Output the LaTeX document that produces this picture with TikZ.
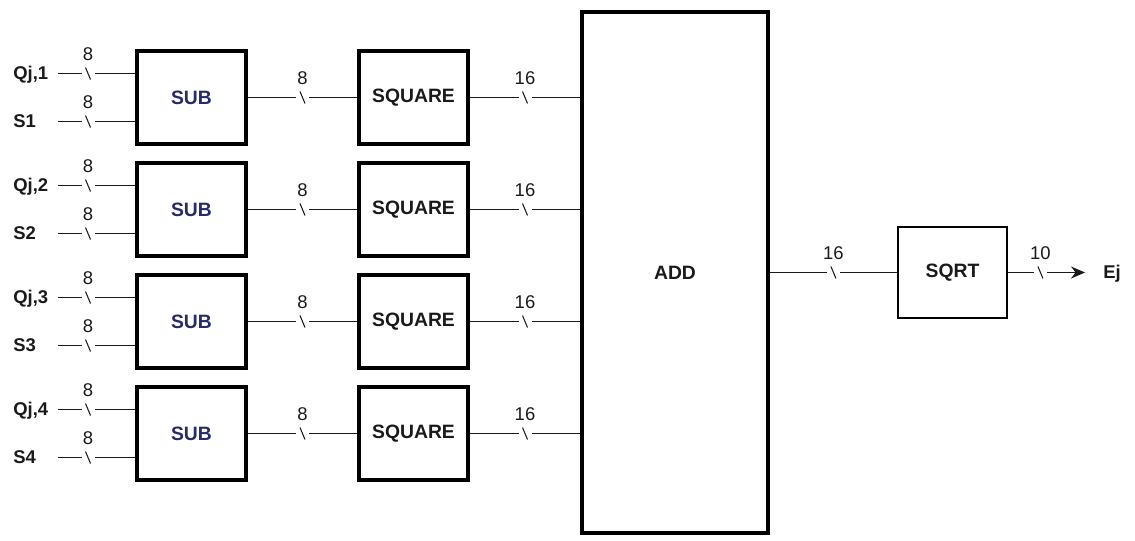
\documentclass[tikz,border=0pt]{standalone}
\usepackage{fontspec}
\setmainfont{Liberation Sans}
\setsansfont{Liberation Sans}
\usetikzlibrary{arrows.meta,positioning,calc}
\usepackage{xcolor}
\definecolor{Ink}{HTML}{1A1A1A}
\definecolor{SubInk}{HTML}{262B6A}

\begin{document}
\begin{tikzpicture}[x=1cm,y=1cm,
  blk/.style={draw=black,line width=2.3pt,inner sep=0pt,minimum width=2.18cm,minimum height=1.86cm,font=\sffamily\bfseries\fontsize{11}{13}\selectfont,text=Ink},
  sigtxt/.style={anchor=base west,inner sep=0pt,font=\sffamily\bfseries\fontsize{10.5}{12}\selectfont,text=Ink},
  wire/.style={draw=Ink,line width=0.7pt},
  buswidth/.style={fill=white,inner sep=0pt,minimum width=0.26cm,minimum height=0.32cm,
    path picture={\draw[-,Ink,line width=0.6pt] ([shift={(-0.05,0.12)}]path picture bounding box.center) -- ([shift={(0.05,-0.12)}]path picture bounding box.center);},
    label={[inner sep=2pt,font=\sffamily\fontsize{10.5}{12}\selectfont,text=Ink]above:#1}}]
\useasboundingbox (0,0) rectangle (22.7,10.8);
% adder and root
\node[blk,minimum width=3.72cm,minimum height=10.42cm] (add) at (13.5,5.35) {ADD};
\node[blk,line width=1.3pt,minimum width=2.18cm,minimum height=1.82cm] (sqrt) at (19.05,5.35) {SQRT};
\node[sigtxt] (ej) at (22.06,5.22) {Ej};
\coordinate (ejtip) at (21.7,5.35);
\draw[wire] (add) -- node[buswidth=16] {} (sqrt);
\draw[wire,-{Stealth[length=2.8mm,width=2.4mm]}] (sqrt) -- node[buswidth=10,pos=0.42] {} (ejtip);
% row 1
\node[sigtxt] (lq1) at (0.26,9.20) {Qj,1};
\node[sigtxt] (ls1) at (0.26,8.24) {S1};
\coordinate (q1) at (1.16,9.33);
\coordinate (s1) at (1.16,8.37);
\node[blk,text=SubInk] (sub1) at (3.83,8.85) {SUB};
\node[blk] (sq1) at (8.27,8.85) {SQUARE};
\draw[wire] (q1) -- node[buswidth=8,pos=0.39] {} (q1 -| sub1.west);
\draw[wire] (s1) -- node[buswidth=8,pos=0.39] {} (s1 -| sub1.west);
\draw[wire] (sub1) -- node[buswidth=8] {} (sq1);
\draw[wire] (sq1) -- node[buswidth=16] {} (sq1 -| add.west);
% row 2
\node[sigtxt] (lq2) at (0.26,6.96) {Qj,2};
\node[sigtxt] (ls2) at (0.26,6.00) {S2};
\coordinate (q2) at (1.16,7.09);
\coordinate (s2) at (1.16,6.13);
\node[blk,text=SubInk] (sub2) at (3.83,6.61) {SUB};
\node[blk] (sq2) at (8.27,6.61) {SQUARE};
\draw[wire] (q2) -- node[buswidth=8,pos=0.39] {} (q2 -| sub2.west);
\draw[wire] (s2) -- node[buswidth=8,pos=0.39] {} (s2 -| sub2.west);
\draw[wire] (sub2) -- node[buswidth=8] {} (sq2);
\draw[wire] (sq2) -- node[buswidth=16] {} (sq2 -| add.west);
% row 3
\node[sigtxt] (lq3) at (0.26,4.72) {Qj,3};
\node[sigtxt] (ls3) at (0.26,3.76) {S3};
\coordinate (q3) at (1.16,4.85);
\coordinate (s3) at (1.16,3.89);
\node[blk,text=SubInk] (sub3) at (3.83,4.37) {SUB};
\node[blk] (sq3) at (8.27,4.37) {SQUARE};
\draw[wire] (q3) -- node[buswidth=8,pos=0.39] {} (q3 -| sub3.west);
\draw[wire] (s3) -- node[buswidth=8,pos=0.39] {} (s3 -| sub3.west);
\draw[wire] (sub3) -- node[buswidth=8] {} (sq3);
\draw[wire] (sq3) -- node[buswidth=16] {} (sq3 -| add.west);
% row 4
\node[sigtxt] (lq4) at (0.26,2.48) {Qj,4};
\node[sigtxt] (ls4) at (0.26,1.52) {S4};
\coordinate (q4) at (1.16,2.61);
\coordinate (s4) at (1.16,1.65);
\node[blk,text=SubInk] (sub4) at (3.83,2.13) {SUB};
\node[blk] (sq4) at (8.27,2.13) {SQUARE};
\draw[wire] (q4) -- node[buswidth=8,pos=0.39] {} (q4 -| sub4.west);
\draw[wire] (s4) -- node[buswidth=8,pos=0.39] {} (s4 -| sub4.west);
\draw[wire] (sub4) -- node[buswidth=8] {} (sq4);
\draw[wire] (sq4) -- node[buswidth=16] {} (sq4 -| add.west);
\end{tikzpicture}
\end{document}
